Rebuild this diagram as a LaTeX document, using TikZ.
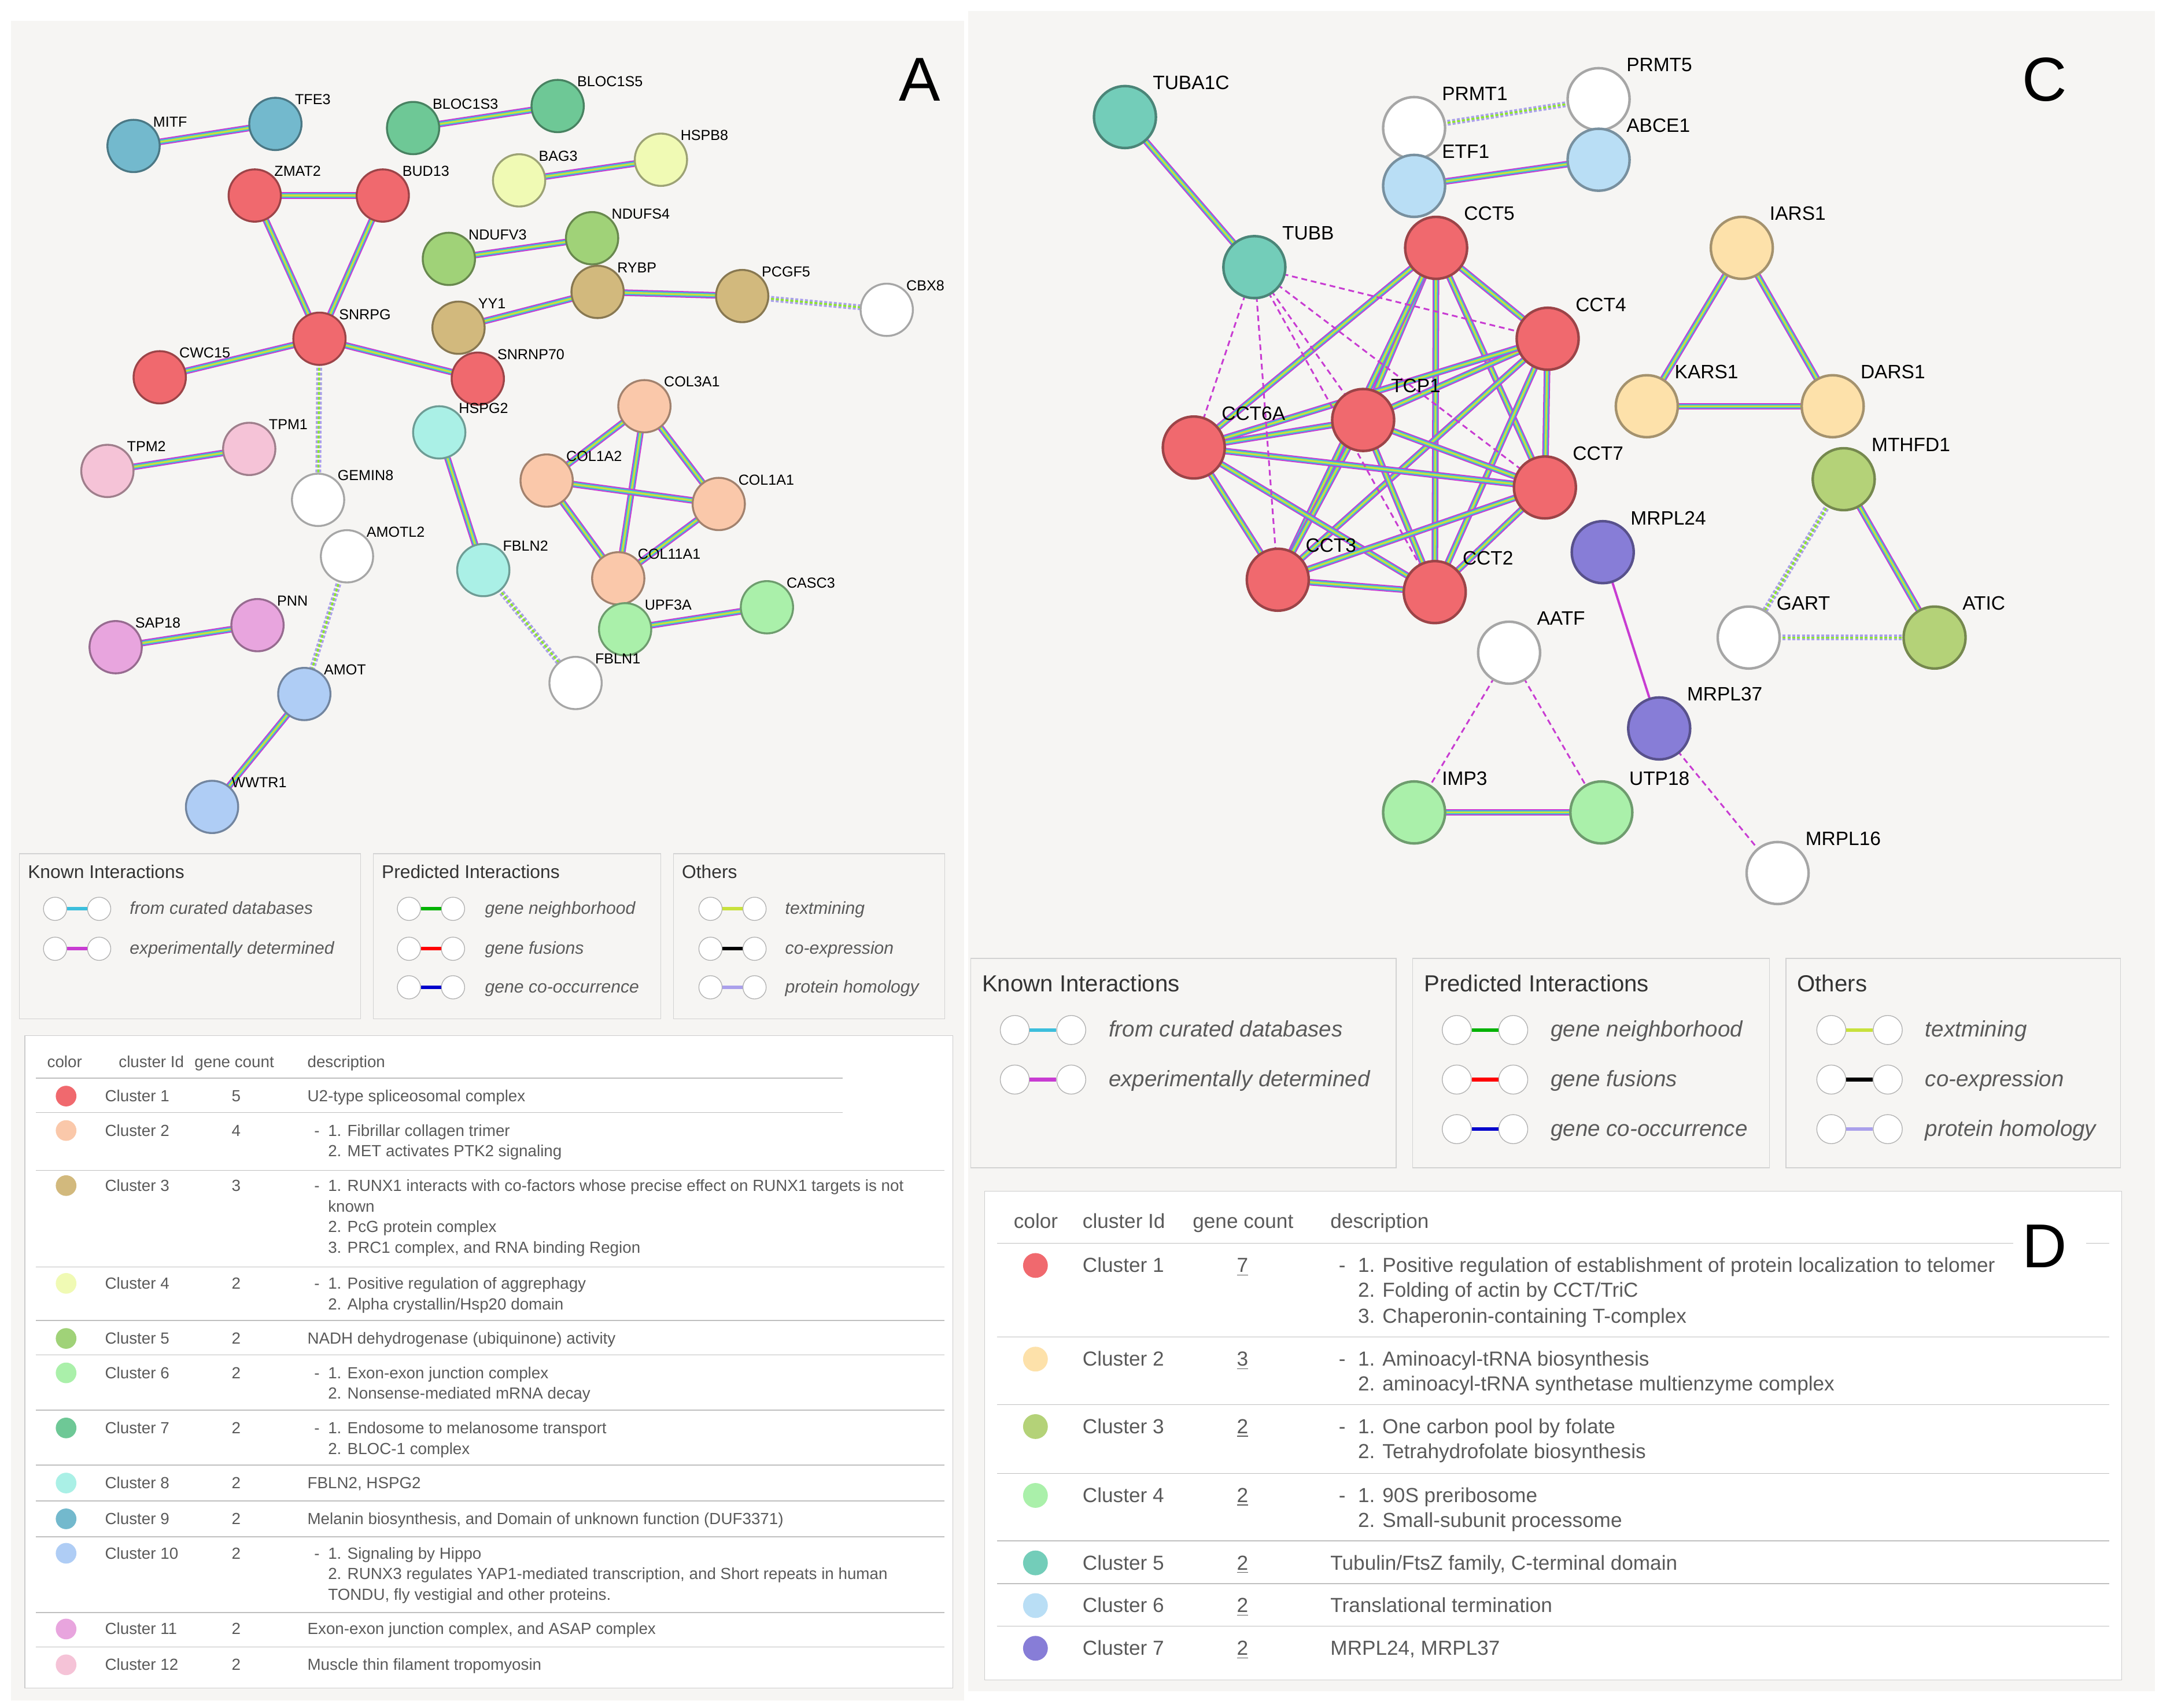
\documentclass[tikz,border=0pt]{standalone}
\usepackage{fontspec}
\setmainfont{Liberation Sans}
\usetikzlibrary{calc}
\pgfdeclarelayer{back}\pgfdeclarelayer{edges}\pgfsetlayers{back,edges,main}
\definecolor{bgc}{RGB}{246,245,243}
\definecolor{cR}{RGB}{240,105,110}\definecolor{cPe}{RGB}{250,200,170}\definecolor{cTan}{RGB}{210,185,125}
\definecolor{cPy}{RGB}{240,250,180}\definecolor{cG}{RGB}{160,210,120}\definecolor{cLg}{RGB}{170,240,170}
\definecolor{cTg}{RGB}{110,200,150}\definecolor{cCy}{RGB}{170,240,230}\definecolor{cBt}{RGB}{115,185,205}
\definecolor{cLb}{RGB}{175,205,245}\definecolor{cPv}{RGB}{232,165,222}\definecolor{cPk}{RGB}{245,195,215}
\definecolor{cOr}{RGB}{253,225,170}\definecolor{cOl}{RGB}{180,210,120}\definecolor{cTe}{RGB}{115,205,185}
\definecolor{cSb}{RGB}{185,222,245}\definecolor{cPu}{RGB}{135,125,215}\definecolor{cW}{RGB}{255,255,255}
\definecolor{mag}{RGB}{200,60,210}\definecolor{cya}{RGB}{60,190,220}\definecolor{ylg}{RGB}{200,225,60}
\definecolor{lav}{RGB}{170,160,235}\definecolor{txt}{RGB}{90,90,90}
\tikzset{
 gn/.style={circle,minimum size=27pt,inner sep=0,draw=#1!65!black,fill=#1,line width=1pt},
 gc/.style={circle,minimum size=32pt,inner sep=0,draw=#1!65!black,fill=#1,line width=1.3pt},
 la/.style={font=\fontsize{7.5}{8}\selectfont,anchor=base west,inner sep=0},
 lc/.style={font=\fontsize{10}{11}\selectfont,anchor=base west,inner sep=0},
 eO/.style={line width=3.4pt,mag},eM/.style={line width=2.2pt,cya},eI/.style={line width=1pt,ylg},
 ed/.style={mag,line width=0.9pt,dash pattern=on 3pt off 2pt},
 eh/.style={lav,line width=3pt,dash pattern=on 1.5pt off 1pt},eh2/.style={ylg!70!green,line width=1pt,dash pattern=on 1.5pt off 1pt},
 tb/.style={font=\fontsize{8.3}{9}\selectfont,anchor=base west,inner sep=0,text=txt},
 td/.style={font=\fontsize{10.5}{11}\selectfont,anchor=base west,inner sep=0,text=txt},
 lgA/.style={font=\fontsize{9}{10}\selectfont\itshape,anchor=base west,inner sep=0,text=txt},
 lgC/.style={font=\fontsize{11.5}{12}\selectfont\itshape,anchor=base west,inner sep=0,text=txt},
 big/.style={font=\fontsize{32}{34}\selectfont,inner sep=0}
}
\newcommand\na[5]{\node[gn=#4] (#1) at (#2,#3) {}; \node[la] at (#2+14,#3-14) {#5};}
\newcommand\nc[5]{\node[gc=#4] (#1) at (#2,#3) {}; \node[lc] at (#2+20,#3-20) {#5};}
% x y color size(pt) distance
\newcommand\ledge[5]{\node[circle,draw=gray!60,fill=white,minimum size=#4,inner sep=0] (l#1#2a) at (#1,#2) {};
 \node[circle,draw=gray!60,fill=white,minimum size=#4,inner sep=0] (l#1#2b) at (#1+#5,#2) {};
 \draw[#3,line width=1.8pt] (l#1#2a) -- (l#1#2b);}
\begin{document}
\begin{tikzpicture}[x=0.025cm,y=-0.025cm]
\useasboundingbox (0,0) rectangle (1568,1240);
\begin{pgfonlayer}{back}
\fill[white] (0,0) rectangle (1568,1240);
\fill[bgc] (8,15) rectangle (700,1235);
\fill[bgc] (703,8) rectangle (1565,1228);
\end{pgfonlayer}
% ---------- Panel A nodes
\na{MITF}{97}{106}{cBt}{MITF}\na{TFE3}{200}{90}{cBt}{TFE3}
\na{BLOCa}{300}{93}{cTg}{BLOC1S3}\na{BLOCb}{405}{77}{cTg}{BLOC1S5}
\na{BAG3}{377}{131}{cPy}{BAG3}\na{HSPB8}{480}{116}{cPy}{HSPB8}
\na{ZMAT2}{185}{142}{cR}{ZMAT2}\na{BUD13}{278}{142}{cR}{BUD13}
\na{NDUFV3}{326}{188}{cG}{NDUFV3}\na{NDUFS4}{430}{173}{cG}{NDUFS4}
\na{RYBP}{434}{212}{cTan}{RYBP}\na{PCGF5}{539}{215}{cTan}{PCGF5}
\na{CBX8}{644}{225}{cW}{CBX8}\na{YY1}{333}{238}{cTan}{YY1}
\na{SNRPG}{232}{246}{cR}{SNRPG}\na{CWC15}{116}{274}{cR}{CWC15}
\na{SNRNP70}{347}{275}{cR}{SNRNP70}\na{HSPG2}{319}{314}{cCy}{HSPG2}
\na{COL3A1}{468}{295}{cPe}{COL3A1}\na{COL1A2}{397}{349}{cPe}{COL1A2}
\na{COL1A1}{522}{366}{cPe}{COL1A1}\na{COL11A1}{449}{420}{cPe}{COL11A1}
\na{TPM2}{78}{342}{cPk}{TPM2}\na{TPM1}{181}{326}{cPk}{TPM1}
\na{GEMIN8}{231}{363}{cW}{GEMIN8}\na{AMOTL2}{252}{404}{cW}{AMOTL2}
\na{FBLN2}{351}{414}{cCy}{FBLN2}\na{UPF3A}{454}{457}{cLg}{UPF3A}
\na{CASC3}{557}{441}{cLg}{CASC3}\na{FBLN1}{418}{496}{cW}{FBLN1}
\na{SAP18}{84}{470}{cPv}{SAP18}\na{PNN}{187}{454}{cPv}{PNN}
\na{AMOT}{221}{504}{cLb}{AMOT}\na{WWTR1}{154}{586}{cLb}{WWTR1}
% ---------- Panel C nodes
\nc{TUBA1C}{817}{85}{cTe}{TUBA1C}\nc{PRMT1}{1027}{93}{cW}{PRMT1}
\nc{PRMT5}{1161}{72}{cW}{PRMT5}\nc{ETF1}{1027}{135}{cSb}{ETF1}
\nc{ABCE1}{1161}{116}{cSb}{ABCE1}\nc{TUBB}{911}{194}{cTe}{TUBB}
\nc{CCT5}{1043}{180}{cR}{CCT5}\nc{CCT4}{1124}{246}{cR}{CCT4}
\nc{IARS1}{1265}{180}{cOr}{IARS1}\nc{KARS1}{1196}{295}{cOr}{KARS1}
\nc{DARS1}{1331}{295}{cOr}{DARS1}\nc{CCT6A}{867}{325}{cR}{CCT6A}
\nc{TCP1}{990}{305}{cR}{TCP1}\nc{CCT7}{1122}{354}{cR}{CCT7}
\nc{MTHFD1}{1339}{348}{cOl}{MTHFD1}\nc{MRPL24}{1164}{401}{cPu}{MRPL24}
\nc{CCT3}{928}{421}{cR}{CCT3}\nc{CCT2}{1042}{430}{cR}{CCT2}
\nc{GART}{1270}{463}{cW}{GART}\nc{ATIC}{1405}{463}{cOl}{ATIC}
\nc{AATF}{1096}{474}{cW}{AATF}\nc{MRPL37}{1205}{529}{cPu}{MRPL37}
\nc{IMP3}{1027}{590}{cLg}{IMP3}\nc{UTP18}{1163}{590}{cLg}{UTP18}
\nc{MRPL16}{1291}{634}{cW}{MRPL16}
% ---------- edges
\begin{pgfonlayer}{edges}
\foreach \a/\b in {MITF/TFE3,BLOCa/BLOCb,BAG3/HSPB8,ZMAT2/BUD13,ZMAT2/SNRPG,BUD13/SNRPG,NDUFV3/NDUFS4,YY1/RYBP,RYBP/PCGF5,SNRPG/CWC15,SNRPG/SNRNP70,TPM2/TPM1,HSPG2/FBLN2,COL3A1/COL1A2,COL3A1/COL1A1,COL3A1/COL11A1,COL1A2/COL1A1,COL1A2/COL11A1,COL1A1/COL11A1,UPF3A/CASC3,SAP18/PNN,AMOT/WWTR1,
 TUBA1C/TUBB,ETF1/ABCE1,CCT5/CCT4,CCT5/TCP1,CCT5/CCT6A,CCT5/CCT7,CCT5/CCT3,CCT5/CCT2,CCT4/TCP1,CCT4/CCT6A,CCT4/CCT7,CCT4/CCT3,CCT4/CCT2,TCP1/CCT6A,TCP1/CCT7,TCP1/CCT3,TCP1/CCT2,CCT6A/CCT7,CCT6A/CCT3,CCT6A/CCT2,CCT7/CCT3,CCT7/CCT2,CCT3/CCT2,IARS1/KARS1,IARS1/DARS1,KARS1/DARS1,MTHFD1/ATIC,IMP3/UTP18}
 {\draw[eO] (\a.center)--(\b.center); \draw[eM] (\a.center)--(\b.center); \draw[eI] (\a.center)--(\b.center);}
\foreach \a/\b in {PCGF5/CBX8,SNRPG/GEMIN8,FBLN2/FBLN1,AMOTL2/AMOT,PRMT1/PRMT5,MTHFD1/GART,GART/ATIC}
 {\draw[eh] (\a.center)--(\b.center); \draw[eh2] (\a.center)--(\b.center);}
\foreach \b in {CCT6A,CCT3,TCP1,CCT7,CCT2,CCT4} {\draw[ed] (TUBB.center)--(\b.center);}
\foreach \a/\b in {MRPL37/MRPL16,AATF/IMP3,AATF/UTP18} {\draw[ed] (\a.center)--(\b.center);}
\draw[mag,line width=1.2pt] (MRPL24.center)--(MRPL37.center);
\end{pgfonlayer}
% ---------- letters
\node[big] at (668,58) {A};\node[big] at (668,790) {B};
\node[big] at (1485,58) {C};
% ---------- legend A
\foreach \x/\w/\t in {14/248/Known Interactions,271/209/Predicted Interactions,489/197/Others}
 {\draw[gray!35,fill=bgc] (\x,620) rectangle (\x+\w,740);
  \node[anchor=base west,inner sep=0,font=\fontsize{9.5}{10}\selectfont,text=black!80] at (\x+6,638) {\t};}
\ledge{40}{660}{cya}{12pt}{32}\node[lgA] at (94,664) {from curated databases};
\ledge{40}{689}{mag}{12pt}{32}\node[lgA] at (94,693) {experimentally determined};
\ledge{297}{660}{green!70!black}{12pt}{32}\node[lgA] at (352,664) {gene neighborhood};
\ledge{297}{689}{red}{12pt}{32}\node[lgA] at (352,693) {gene fusions};
\ledge{297}{717}{blue!80!black}{12pt}{32}\node[lgA] at (352,721) {gene co-occurrence};
\ledge{516}{660}{ylg}{12pt}{32}\node[lgA] at (570,664) {textmining};
\ledge{516}{689}{black}{12pt}{32}\node[lgA] at (570,693) {co-expression};
\ledge{516}{717}{lav}{12pt}{32}\node[lgA] at (570,721) {protein homology};
% ---------- legend C
\foreach \x/\w/\t in {705/309/Known Interactions,1026/259/Predicted Interactions,1297/243/Others}
 {\draw[gray!35,fill=bgc] (\x,696) rectangle (\x+\w,848);
  \node[anchor=base west,inner sep=0,font=\fontsize{12}{13}\selectfont,text=black!80] at (\x+8,720) {\t};}
\ledge{737}{748}{cya}{15pt}{41}\node[lgC] at (805,753) {from curated databases};
\ledge{737}{784}{mag}{15pt}{41}\node[lgC] at (805,789) {experimentally determined};
\ledge{1058}{748}{green!70!black}{15pt}{41}\node[lgC] at (1126,753) {gene neighborhood};
\ledge{1058}{784}{red}{15pt}{41}\node[lgC] at (1126,789) {gene fusions};
\ledge{1058}{820}{blue!80!black}{15pt}{41}\node[lgC] at (1126,825) {gene co-occurrence};
\ledge{1330}{748}{ylg}{15pt}{41}\node[lgC] at (1398,753) {textmining};
\ledge{1330}{784}{black}{15pt}{41}\node[lgC] at (1398,789) {co-expression};
\ledge{1330}{820}{lav}{15pt}{41}\node[lgC] at (1398,825) {protein homology};
% ---------- table B
\draw[gray!40,fill=white] (18,752) rectangle (692,1226);
\node[tb] at (34,775) {color};\node[tb] at (86,775) {cluster Id};\node[tb] at (141,775) {gene count};\node[tb] at (223,775) {description};
\draw[gray!50] (26,783)--(612,783);\draw[gray!50] (26,808)--(612,808);
\foreach \y in {850,920,959,984,1024,1064,1090,1116,1171,1196} {\draw[gray!50] (26,\y)--(686,\y);}
\foreach \y/\c/\n/\k in {796/cR/1/5,821/cPe/2/4,861/cTan/3/3,932/cPy/4/2,972/cG/5/2,997/cLg/6/2,1037/cTg/7/2,1077/cCy/8/2,1103/cBt/9/2,1128/cLb/10/2,1183/cPv/11/2,1209/cPk/12/2}
 {\fill[\c] (48,\y) circle (7.5); \node[tb] at (76,\y+4) {Cluster \n}; \node[tb] at (168,\y+4) {\k};}
\foreach \y/\t in {796/U2-type spliceosomal complex,972/NADH dehydrogenase (ubiquinone) activity,1077/{FBLN2, HSPG2},1103/{Melanin biosynthesis, and Domain of unknown function (DUF3371)},1183/{Exon-exon junction complex, and ASAP complex},1209/Muscle thin filament tropomyosin}
 {\node[tb] at (223,\y+4) {\t};}
\foreach \y/\t in {821/1. Fibrillar collagen trimer,861/1. RUNX1 interacts with co-factors whose precise effect on RUNX1 targets is not,932/1. Positive regulation of aggrephagy,997/1. Exon-exon junction complex,1037/1. Endosome to melanosome transport,1128/1. Signaling by Hippo}
 {\node[tb] at (228,\y+4) {-}; \node[tb] at (238,\y+4) {\t};}
\foreach \y/\t in {836/2. MET activates PTK2 signaling,876/known,891/2. PcG protein complex,906/{3. PRC1 complex, and RNA binding Region},947/{2. Alpha crystallin/Hsp20 domain},1012/2. Nonsense-mediated mRNA decay,1052/2. BLOC-1 complex,1143/{2. RUNX3 regulates YAP1-mediated transcription, and Short repeats in human},1158/{TONDU, fly vestigial and other proteins.}}
 {\node[tb] at (238,\y+4) {\t};}
% ---------- table D
\draw[gray!40,fill=white] (715,865) rectangle (1541,1220);
\node[td] at (736,892) {color};\node[td] at (786,892) {cluster Id};\node[td] at (866,892) {gene count};\node[td] at (966,892) {description};
\draw[gray!50] (724,903)--(1462,903);\draw[gray!50] (1515,903)--(1532,903);
\foreach \y in {971,1020,1070,1119,1150,1181} {\draw[gray!50] (724,\y)--(1532,\y);}
\foreach \y/\c/\n/\k in {919/cR/1/7,987/cOr/2/3,1036/cOl/3/2,1086/cLg/4/2,1135/cTe/5/2,1166/cSb/6/2,1197/cPu/7/2}
 {\fill[\c] (752,\y) circle (9); \node[td] at (786,\y+5) {Cluster \n}; \node[td] at (898,\y+5) {\underline{\k}};}
\foreach \y/\t in {1135/{Tubulin/FtsZ family, C-terminal domain},1166/Translational termination,1197/{MRPL24, MRPL37}}
 {\node[td] at (966,\y+5) {\t};}
\foreach \y/\t in {919/1. Positive regulation of establishment of protein localization to telomer,987/1. Aminoacyl-tRNA biosynthesis,1036/1. One carbon pool by folate,1086/1. 90S preribosome}
 {\node[td] at (972,\y+5) {-}; \node[td] at (986,\y+5) {\t};}
\foreach \y/\t in {937/{2. Folding of actin by CCT/TriC},956/3. Chaperonin-containing T-complex,1005/2. aminoacyl-tRNA synthetase multienzyme complex,1054/2. Tetrahydrofolate biosynthesis,1104/2. Small-subunit processome}
 {\node[td] at (986,\y+5) {\t};}
\fill[white] (1464,880) rectangle (1510,930);
\node[big] at (1485,905) {D};
\end{tikzpicture}
\end{document}
